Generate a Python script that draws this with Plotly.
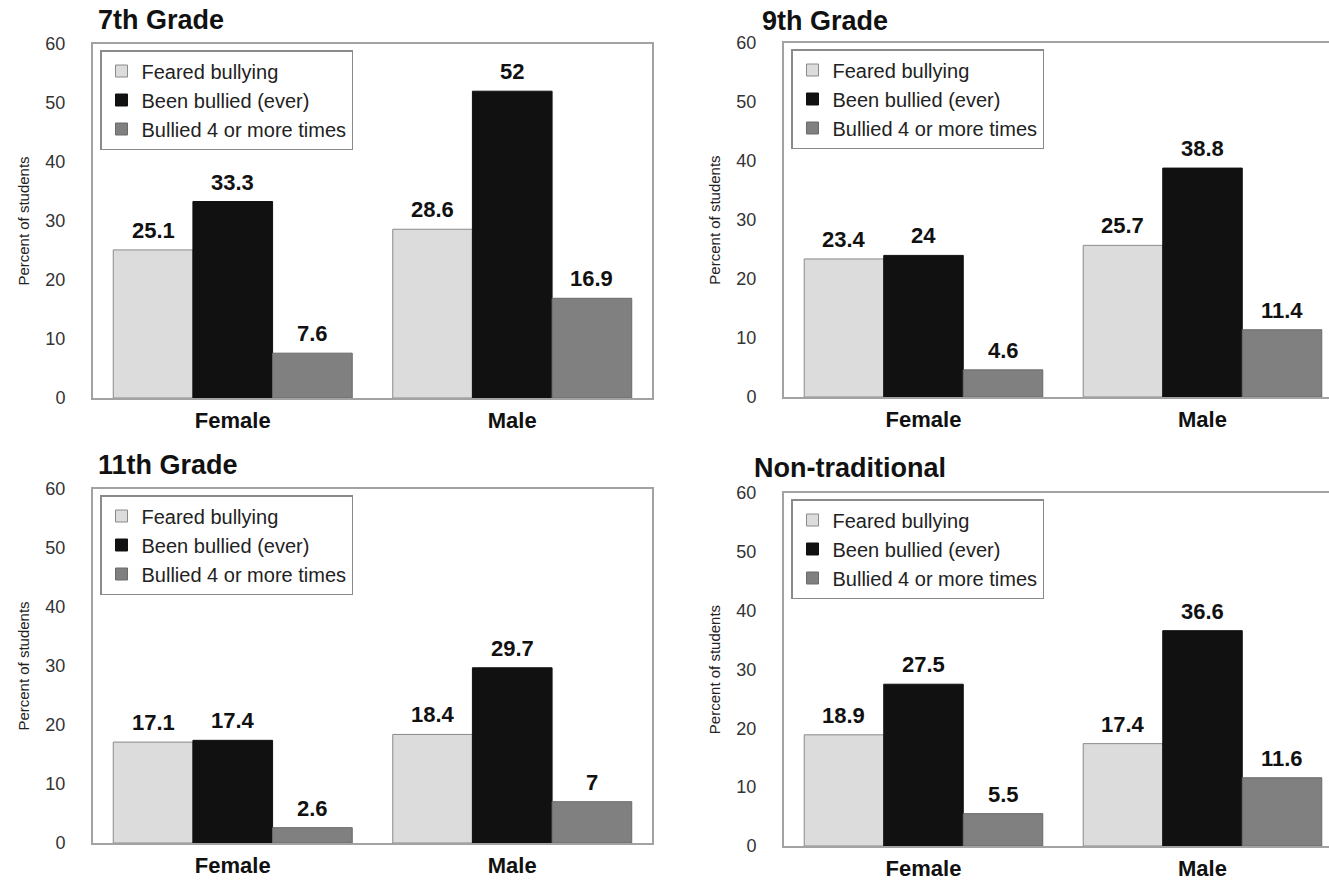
import plotly.graph_objects as go

categories = ["Female", "Male"]
series_names = ["Feared bullying", "Been bullied (ever)", "Bullied 4 or more times"]
panel_titles = ["7th Grade", "9th Grade", "11th Grade", "Non-traditional"]

grade7_feared = [25.1, 28.6]
grade7_been = [33.3, 52]
grade7_four = [7.6, 16.9]

grade9_feared = [23.4, 25.7]
grade9_been = [24, 38.8]
grade9_four = [4.6, 11.4]

grade11_feared = [17.1, 18.4]
grade11_been = [17.4, 29.7]
grade11_four = [2.6, 7]

nontrad_feared = [18.9, 17.4]
nontrad_been = [27.5, 36.6]
nontrad_four = [5.5, 11.6]

panels = [
    [grade7_feared, grade7_been, grade7_four],
    [grade9_feared, grade9_been, grade9_four],
    [grade11_feared, grade11_been, grade11_four],
    [nontrad_feared, nontrad_been, nontrad_four],
]

W, H = 1329, 880
colors = ["#dcdcdc", "#111111", "#808080"]
line_colors = ["#8a8a8a", "#111111", "#6a6a6a"]
FONT = "Liberation Sans, Arial, sans-serif"
BARGAP = 0.145

# pixel boxes of each plot area: left, right, top, bottom
boxes = [
    (93, 652, 44, 398),
    (784, 1342, 43, 397),
    (93, 652, 489, 843),
    (784, 1342, 493, 846),
]
legend_pos = [(100, 50), (791, 49), (100, 495), (791, 499)]
title_pos = [(96, 20), (760, 21), (96, 465), (752, 468)]

fig = go.Figure()
annotations = []
for p, data in enumerate(panels):
    ax = "" if p == 0 else str(p + 1)
    leg = "legend" if p == 0 else f"legend{p + 1}"
    l, r, t, b = boxes[p]
    cat_px = (r - l) / 2.0
    bar_px = cat_px * (1 - BARGAP) / 3.0
    for s in range(3):
        fig.add_trace(go.Bar(
            x=categories, y=data[s], name=series_names[s],
            marker=dict(color=colors[s], line=dict(color=line_colors[s], width=1)),
            xaxis="x" + ax, yaxis="y" + ax, legend=leg,
        ))
        for i, v in enumerate(data[s]):
            annotations.append(dict(
                x=i, y=v, xref="x" + ax, yref="y" + ax,
                text=f"<b>{v:g}</b>", showarrow=False,
                xanchor="center", yanchor="bottom",
                xshift=(s - 1) * bar_px, yshift=5,
                font=dict(family=FONT, size=22, color="#111111"),
            ))

layout = dict(
    width=W, height=H, margin=dict(l=0, r=0, t=0, b=0, autoexpand=False),
    paper_bgcolor="white", plot_bgcolor="white",
    barmode="group", bargap=BARGAP, bargroupgap=0,
    showlegend=True, font=dict(family=FONT),
)
for p, (l, r, t, b) in enumerate(boxes):
    ax = "" if p == 0 else str(p + 1)
    right_cut = r > W
    r_eff = min(r, W)
    cat_w = (r - l) / 2.0
    xr = [-0.5, -0.5 + (r_eff - l) / cat_w]
    layout["xaxis" + ax] = dict(
        domain=[l / W, r_eff / W], anchor="y" + ax, range=xr, automargin=False,
        showline=True, linecolor="#a2a2a2", linewidth=2, mirror=True,
        showgrid=False, zeroline=False, ticks="", ticklabelstandoff=2,
        tickfont=dict(family=FONT, size=22, color="#111111", weight="bold"),
        fixedrange=True,
    )
    layout["yaxis" + ax] = dict(
        domain=[1 - b / H, 1 - t / H], anchor="x" + ax, range=[0, 60], dtick=10,
        automargin=False,
        showline=True, linecolor="#a2a2a2", linewidth=2, mirror=not right_cut,
        showgrid=False, zeroline=False, ticks="", ticklabelstandoff=22,
        tickfont=dict(family=FONT, size=18, color="#333333"),
        title=dict(text="Percent of students", font=dict(family=FONT, size=15, color="#222222"), standoff=12),
        fixedrange=True,
    )
    lx, ly = legend_pos[p]
    leg = "legend" if p == 0 else f"legend{p + 1}"
    layout[leg] = dict(
        x=lx / W, y=1 - ly / H, xanchor="left", yanchor="top",
        bgcolor="white", bordercolor="#8a8a8a", borderwidth=1.5,
        font=dict(family=FONT, size=20, color="#222222"),
        itemwidth=30, tracegroupgap=0,
    )
    tx, ty = title_pos[p]
    annotations.append(dict(
        text=f"<b>{panel_titles[p]}</b>", x=tx / W, y=1 - ty / H, xref="paper", yref="paper",
        xanchor="left", yanchor="middle", showarrow=False,
        font=dict(family=FONT, size=27, color="#111111"),
    ))
layout["annotations"] = annotations
fig.update_layout(**layout)
fig.write_html(
    "out.html",
    config={"displayModeBar": False},
    post_script="document.body.style.margin='0px';document.body.style.overflow='hidden';",
)
